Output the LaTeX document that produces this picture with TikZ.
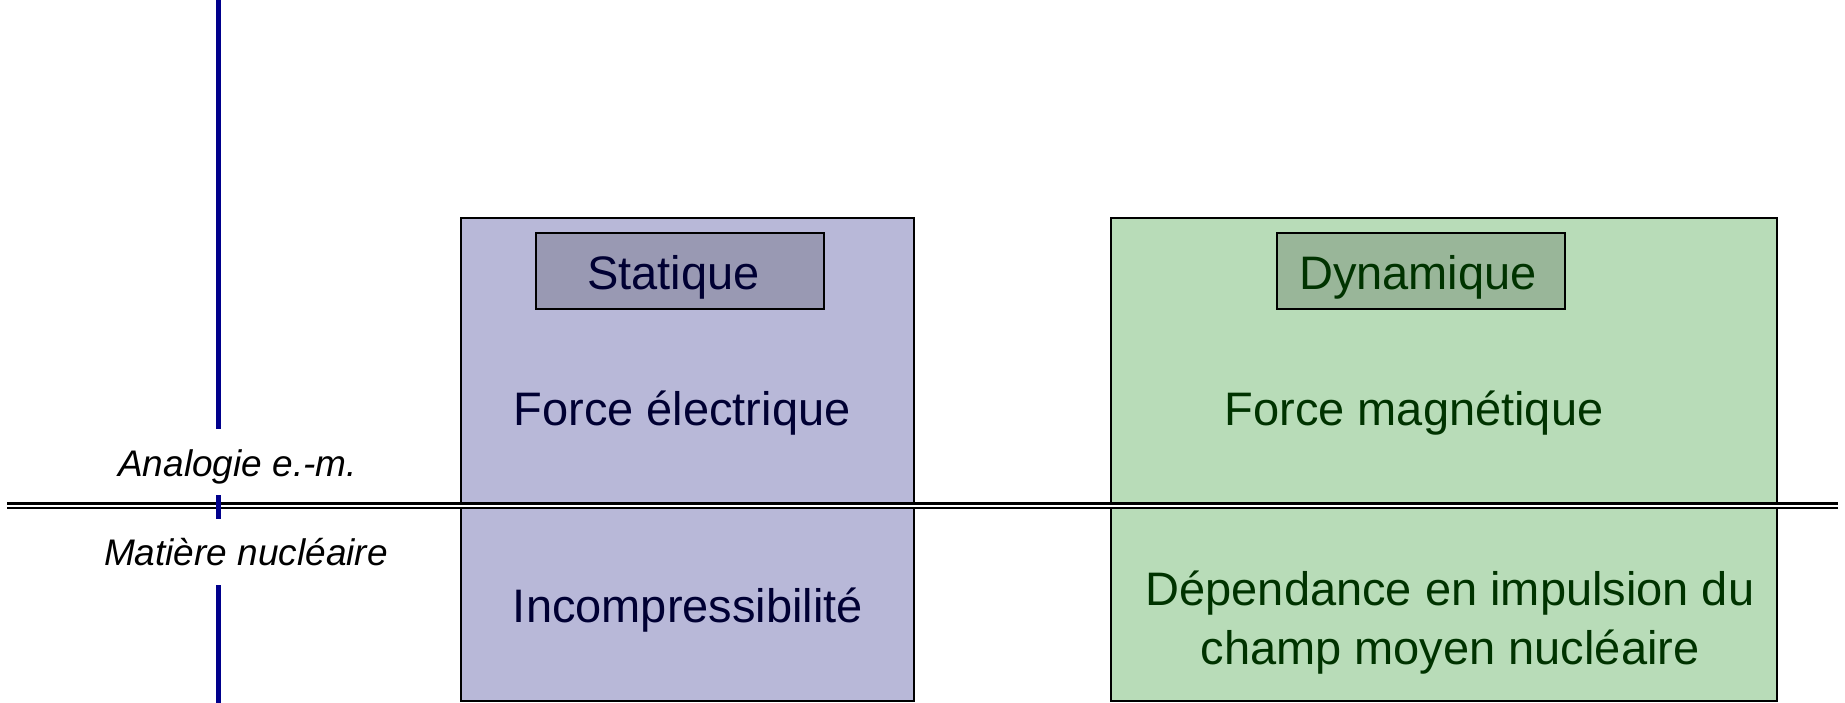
\documentclass[tikz,border=0pt]{standalone}
\usepackage{fontspec}
\setmainfont{Liberation Sans}
\definecolor{statfill}{RGB}{184,184,216}
\definecolor{statlab}{RGB}{153,153,179}
\definecolor{dynfill}{RGB}{184,220,184}
\definecolor{dynlab}{RGB}{153,182,153}
\definecolor{txtblue}{RGB}{0,0,51}
\definecolor{txtgreen}{RGB}{0,51,0}
\definecolor{axisblue}{RGB}{0,0,140}
\tikzset{
  bigbox/.style={draw=black, line width=2pt, inner sep=0pt, outer sep=0pt, anchor=north west},
  labbox/.style={draw=black, line width=2pt, inner sep=0pt, outer sep=0pt, minimum width=288pt, minimum height=76pt},
  bigtxt/.style={font=\fontsize{47}{56}\selectfont, inner sep=0pt, anchor=base},
  sidetxt/.style={font=\fontsize{37}{44}\selectfont\itshape, inner sep=0pt, anchor=base, text=black},
  axis/.style={draw=axisblue, line width=4.5pt},
  sep/.style={draw=black, line width=2.4pt, double=white, double distance=2.4pt}
}
\begin{document}
\begin{tikzpicture}[x=1pt,y=-1pt]
\useasboundingbox (0,0) rectangle (1845,703);
% main boxes
\node[bigbox, fill=statfill, minimum width=453.5pt, minimum height=483pt] (stat) at (460.5,218) {};
\node[bigbox, fill=dynfill, minimum width=666pt, minimum height=483pt] (dyn) at (1111,218) {};
% label boxes
\node[labbox, fill=statlab] (statlab) at (680,271) {};
\node[labbox, fill=dynlab] (dynlab) at (1421,271) {};
% texts
\node[bigtxt, text=txtblue] (tstat) at (673.5,290) {Statique};
\node[bigtxt, text=txtgreen] (tdyn) at (1418,290) {Dynamique};
\node[bigtxt, text=txtblue] (felec) at (682,425) {Force électrique};
\node[bigtxt, text=txtgreen] (fmag) at (1414,425) {Force magnétique};
\node[bigtxt, text=txtblue] (incomp) at (688,622) {Incompressibilité};
\node[bigtxt, text=txtgreen] (dep1) at (1450,605) {Dépendance en impulsion du};
\node[bigtxt, text=txtgreen] (dep2) at (1450,664.5) {champ moyen nucléaire};
\node[sidetxt] (analog) at (237.5,476) {Analogie e.-m.};
\node[sidetxt] (matiere) at (246,565) {Matière nucléaire};
% separator
\coordinate (sepL) at (7,505.7);
\coordinate (sepR) at (1838,505.7);
\draw[sep] (sepL) -- (sepR);
% vertical axis
\coordinate (a0) at (218.5,0);
\coordinate (a1) at (218.5,429);
\coordinate (a2) at (218.5,495);
\coordinate (a3) at (218.5,519);
\coordinate (a4) at (218.5,585);
\coordinate (a5) at (218.5,703);
\draw[axis] (a0) -- (a1);
\draw[axis] (a2) -- (a3);
\draw[axis] (a4) -- (a5);
\end{tikzpicture}
\end{document}
